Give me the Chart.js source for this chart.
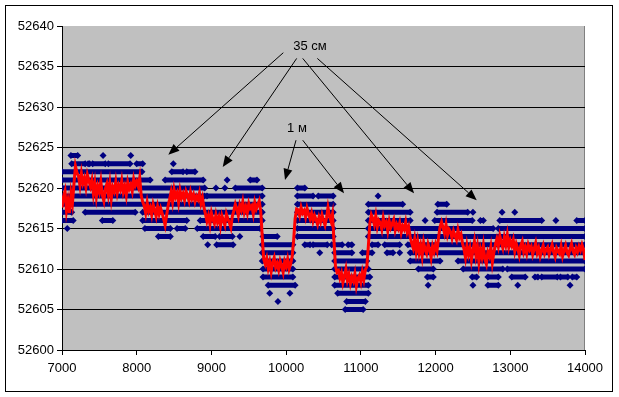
<!DOCTYPE html>
<html><head><meta charset="utf-8">
<script src="https://cdn.jsdelivr.net/npm/chart.js@4/dist/chart.umd.min.js"></script>
<style>html,body{margin:0;padding:0;background:#fff;}canvas{display:block;}</style>
</head><body>
<canvas id="c" width="619" height="397"></canvas>
<script>
// ---- tick labels ----
const xTicks = [7000, 8000, 9000, 10000, 11000, 12000, 13000, 14000];
const yTicks = [52600, 52605, 52610, 52615, 52620, 52625, 52630, 52635, 52640];

// ---- raw readings (blue diamonds): runs of x at each integer level ----
const runs52624 = [[7120,7210],[7550],[7920]];
const runs52623 = [[7130,7310],[7350,7370],[7410,7580],[7620,7910],[8000,8080],[8490]];
const runs52622 = [[7000,8070],[8470,8620],[8670,8780]];
const runs52621 = [[7000,8180],[8380,8890],[9210],[9520,9610]];
const runs52620 = [[7000,8910],[9060],[9180],[9320,9680],[10150,10250]];
const runs52619 = [[7000,8910],[8940,9680],[10150,10360],[10430,10630],[11230]];
const runs52618 = [[7000,9680],[10150,10630],[11100,11560],[12030,12150]];
const runs52617 = [[7000,7130],[7310,7980],[8080,9680],[10150,10630],[11100,11660],[12020,12430],[12500],[12890],[13060]];
const runs52616 = [[7000,7150],[7540,7680],[8080,8670],[8850,9680],[10150,10630],[11100,11660],[11860],[11990,12490],[12600,12640],[12860,13420],[13610],[13890,14000]];
const runs52615 = [[7070],[8110,8450],[8540,8650],[8810,9650],[10150,10630],[11100,12770],[12840,14000]];
const runs52614 = [[8290,8450],[8890,9050],[9110,9280],[9380],[9690,9880],[10150,10630],[11100,14000]];
const runs52613 = [[8950],[9070,9290],[9680,10090],[10250,10320],[10360,10550],[10610,10750],[10830,10880],[11150,11230],[11320,11520],[11630,14000]];
const runs52612 = [[9680,10090],[10450],[10650,10880],[11020,11150],[11350,11430],[11520],[11660,14000]];
const runs52611 = [[9680,10090],[10650,11080],[11660,12060],[12300,14000]];
const runs52610 = [[9690,10090],[10650,11100],[11770,11970],[12370,12900],[12960,14000]];
const runs52609 = [[9690,10090],[10650,11120],[11890,11970],[12490,12550],[12700,12840],[13020,13200],[13330,13370],[13420,13630],[13670,13770],[13830,13890]];
const runs52608 = [[9760,10120],[10650,11100],[11900],[12500],[12700,12840],[13100],[13800]];
const runs52607 = [[9780],[10050],[10690,11100]];
const runs52606 = [[9890],[10810,11060]];
const runs52605 = [[10790,11030]];

const levels = [
  [52624, runs52624],[52623, runs52623],[52622, runs52622],[52621, runs52621],
  [52620, runs52620],[52619, runs52619],[52618, runs52618],[52617, runs52617],
  [52616, runs52616],[52615, runs52615],[52614, runs52614],[52613, runs52613],
  [52612, runs52612],[52611, runs52611],[52610, runs52610],[52609, runs52609],
  [52608, runs52608],[52607, runs52607],[52606, runs52606],[52605, runs52605]
];

// ---- smoothed (red) series, sampled every 20 units from 7000 ----
const redStartX = 7000;
const redStepX = 20;
const redValues = [
52617.6,52618.9,52619.6,52617.2,52618.4,52616.9,52619.3,52618.1,
52620.5,52622.7,52621.9,
52621.5,52620.3,52621.8,52620.6,52621.2,52620.1,52621.6,52620.9,52620.2,52621.0,
52619.3,52620.6,52618.9,52620.2,52619.5,52620.8,52619.1,52618.4,52619.9,52620.5,
52619.2,52620.6,52618.7,52620.1,52619.6,52620.8,52619.4,52620.3,52619.8,52620.9,
52619.5,52620.2,52619.1,52620.7,52619.9,52620.4,52619.6,52621.1,52620.3,52620.8,
52620.2,52621.3,52619.1,52618.3,
52617.8,52616.9,52618.2,52617.1,52617.6,52616.7,52618.0,52617.3,52616.5,52617.7,52616.8,52617.5,52616.9,
52616.2,52615.4,52616.6,52617.8,
52618.6,52619.5,52618.3,52619.8,52618.9,52619.4,52618.2,52619.7,52618.8,52619.3,
52618.5,52619.6,52619.1,52618.4,52619.5,52618.7,52619.2,52618.3,52619.0,52618.6,
52619.4,52618.1,52618.8,52617.6,
52616.8,52615.9,52616.6,52615.5,52616.9,52616.1,52615.6,52616.7,52615.8,52616.4,
52615.3,52616.6,52616.0,52615.4,52616.8,52616.2,52615.7,52615.1,52616.5,
52617.2,52618.0,52617.4,52616.6,52617.9,52617.3,52618.3,52617.0,52617.7,52616.9,
52618.1,52617.5,52617.8,52616.8,52618.2,52617.4,52617.9,52618.4,52617.1,
52614.0,52611.2,
52610.6,52611.3,52610.1,52610.9,52609.7,52610.8,52611.4,52610.2,52610.7,52609.9,
52611.0,52610.4,52609.6,52610.9,52610.3,52611.2,52610.0,52610.6,52611.5,
52613.5,52616.2,52617.4,
52617.3,52616.6,52617.6,52616.9,52617.2,52616.4,52617.5,52616.8,52616.2,52616.9,
52615.9,52616.6,52616.1,52615.5,52616.4,52615.8,52616.7,52616.0,52615.4,52616.3,
52617.6,52616.5,52615.9,52616.8,
52613.5,52610.4,52609.6,
52609.8,52608.9,52609.5,52608.3,52609.1,52610.0,52608.6,52609.3,52608.2,52609.0,
52608.5,52609.4,52607.9,52608.8,52609.2,52608.4,52609.6,52608.7,52609.9,52610.3,
52612.8,52615.6,52616.7,
52616.2,52615.5,52616.6,52615.2,52616.0,52615.7,52614.9,52616.3,52615.4,52615.8,
52614.7,52615.9,52615.1,52615.6,52616.1,52614.8,52615.5,52615.0,52615.7,52614.5,
52615.3,52614.9,52615.8,52614.6,52615.2,
52614.0,52613.2,52612.6,52613.7,52612.2,52613.4,52612.0,52612.9,52611.6,52613.3,
52612.4,52611.9,52613.1,52612.5,52611.4,52612.8,52612.1,52613.0,52612.3,
52613.9,52615.2,52615.8,
52615.1,52614.4,52615.5,52614.2,52614.9,52614.6,52613.8,52614.7,52614.1,52613.6,52614.8,52613.9,52614.3,
52613.2,52612.5,52611.4,52612.9,52611.8,52612.6,52611.1,52612.3,52613.4,52611.7,
52612.8,52610.9,52612.4,52611.5,52612.9,52611.2,52610.6,52612.1,52611.6,52612.7,
52610.8,52612.0,52613.0,
52613.7,52612.8,52614.1,52613.3,52612.6,52613.9,52613.0,52614.2,52612.7,52613.5,52612.9,52613.6,
52612.2,52613.1,52612.5,52611.7,52612.9,52613.4,52612.1,52612.7,52611.9,52613.0,
52612.4,52612.8,52611.8,52612.5,52613.2,52612.0,52612.6,52611.6,52612.3,52612.9,
52611.9,52612.4,
52612.7,52611.8,52612.4,52613.0,52612.1,52611.5,52612.6,52612.2,52611.9,52612.8,
52611.6,52612.3,52612.9,52612.0,52611.7,52612.5,52613.1,52612.2,52611.8,52612.6,
52612.1,52612.8,52612.3,52613.0,52612.4,52611.1
];

// ---- annotations (data coordinates) ----
const labelTexts = ['35 см', '1 м'];
const labelX = [10319, 10145];
const labelY = [52637.5, 52627.4];
const arrowFromX = [9962, 10141, 10222, 10417, 10132, 10222];
const arrowFromY = [52636.7, 52636.0, 52636.0, 52636.0, 52625.9, 52625.9];
const arrowToX   = [8423, 9151, 11712, 12551, 9985, 10775];
const arrowToY   = [52624.1, 52622.6, 52619.35, 52618.5, 52621.0, 52619.35];

// build datasets from arrays
const blueData = [];
levels.forEach(([lvl, runs]) => {
  runs.forEach(r => {
    blueData.push({x: r[0], y: lvl});
    if (r.length > 1) blueData.push({x: r[1], y: lvl});
    blueData.push({x: r[0], y: null});
  });
});
const redData = redValues.map((v, i) => ({x: redStartX + i * redStepX, y: v}));

const FONT = "'Liberation Sans', Arial, sans-serif";

const deco = {
  id: 'deco',
  beforeDraw(chart) {
    const {ctx, chartArea: a} = chart;
    ctx.save();
    ctx.fillStyle = '#ffffff';
    ctx.fillRect(0, 0, chart.width, chart.height);
    ctx.fillStyle = '#c0c0c0';
    ctx.fillRect(a.left, a.top, a.right - a.left, a.bottom - a.top);
    ctx.strokeStyle = '#000';
    ctx.lineWidth = 1;
    ctx.strokeRect(5.5, 5.5, 607, 386);
    ctx.strokeStyle = '#808080';
    ctx.beginPath();
    ctx.moveTo(a.right - 0.5, a.top);
    ctx.lineTo(a.right - 0.5, a.bottom);
    ctx.stroke();
    ctx.restore();
  },
  afterDatasetsDraw(chart) {
    const {ctx, scales: {x, y}} = chart;
    ctx.save();
    ctx.strokeStyle = '#000';
    ctx.fillStyle = '#000';
    ctx.lineWidth = 1;
    for (let i = 0; i < arrowFromX.length; i++) {
      const x0 = x.getPixelForValue(arrowFromX[i]), y0 = y.getPixelForValue(arrowFromY[i]);
      const x1 = x.getPixelForValue(arrowToX[i]), y1 = y.getPixelForValue(arrowToY[i]);
      const ang = Math.atan2(y1 - y0, x1 - x0);
      const L = 11, W = 4.5;
      const bx = x1 - Math.cos(ang) * L, by = y1 - Math.sin(ang) * L;
      ctx.beginPath();
      ctx.moveTo(x0, y0);
      ctx.lineTo(bx, by);
      ctx.stroke();
      ctx.beginPath();
      ctx.moveTo(x1, y1);
      ctx.lineTo(bx + Math.sin(ang) * W, by - Math.cos(ang) * W);
      ctx.lineTo(bx - Math.sin(ang) * W, by + Math.cos(ang) * W);
      ctx.closePath();
      ctx.fill();
    }
    ctx.font = '13px ' + FONT;
    ctx.textAlign = 'center';
    ctx.textBaseline = 'middle';
    for (let i = 0; i < labelTexts.length; i++) {
      ctx.fillText(labelTexts[i], x.getPixelForValue(labelX[i]), y.getPixelForValue(labelY[i]));
    }
    ctx.restore();
  }
};

new Chart(document.getElementById('c'), {
  type: 'line',
  data: {
    datasets: [
      {
        data: redData,
        borderColor: '#ff0000',
        borderWidth: 3,
        pointRadius: 0,
        tension: 0,
        order: 0
      },
      {
        data: blueData,
        borderColor: '#000080',
        backgroundColor: '#000080',
        borderWidth: 5,
        pointStyle: 'rectRot',
        pointRadius: 3.5,
        pointBorderWidth: 0,
        pointBackgroundColor: '#000080',
        spanGaps: false,
        tension: 0,
        order: 1
      }
    ]
  },
  options: {
    responsive: false,
    devicePixelRatio: 1,
    animation: false,
    events: [],
    layout: {padding: {left: 0, top: 26, right: 34, bottom: 0}},
    plugins: {legend: {display: false}, tooltip: {enabled: false}},
    scales: {
      x: {
        type: 'linear',
        min: xTicks[0], max: xTicks[xTicks.length - 1],
        afterFit: s => { s.height = 47; },
        afterBuildTicks: s => { s.ticks = xTicks.map(v => ({value: v})); },
        ticks: {color: '#000', font: {family: FONT, size: 13}, padding: 6, maxRotation: 0,
                callback: v => String(v)},
        grid: {drawOnChartArea: false, drawTicks: true, tickLength: 5, tickColor: '#000'},
        border: {color: '#000', width: 1}
      },
      y: {
        type: 'linear',
        min: yTicks[0], max: yTicks[yTicks.length - 1],
        afterFit: s => { s.width = 62; },
        afterBuildTicks: s => { s.ticks = yTicks.map(v => ({value: v})); },
        ticks: {color: '#000', font: {family: FONT, size: 13}, padding: 3,
                callback: v => String(v)},
        grid: {
          color: c => (c.tick && c.tick.value === yTicks[yTicks.length - 1]) ? 'rgba(0,0,0,0)' : '#000',
          tickColor: '#000', tickLength: 5, drawTicks: true, lineWidth: 1
        },
        border: {color: '#000', width: 1}
      }
    }
  },
  plugins: [deco]
});
</script>
</body></html>
